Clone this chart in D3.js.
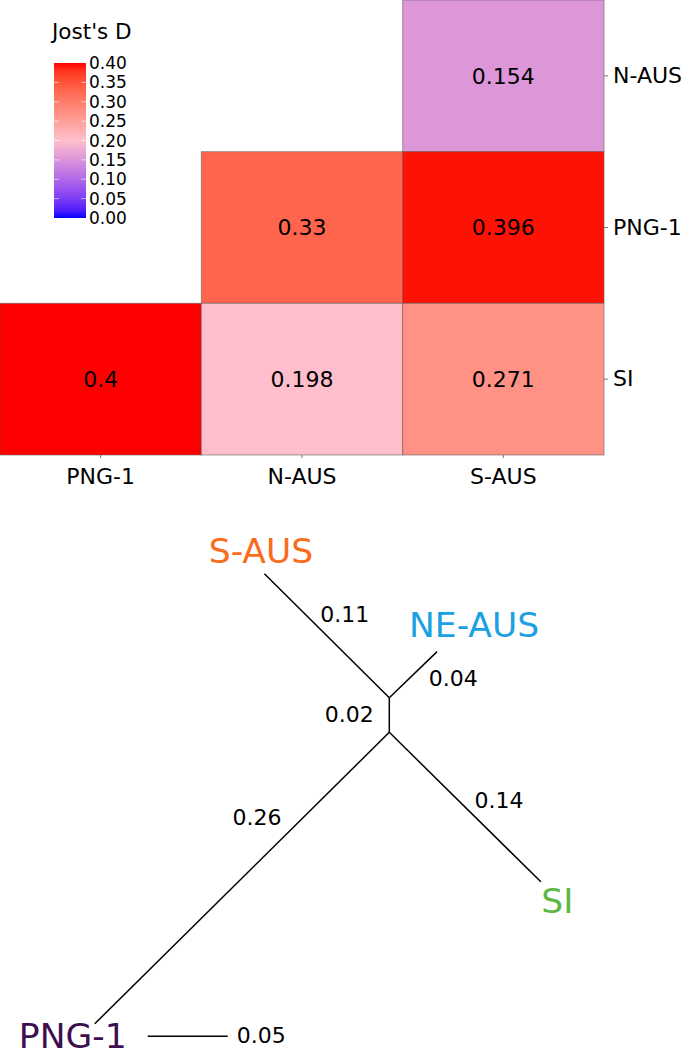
<!DOCTYPE html>
<html><head><meta charset="utf-8">
<script src="https://cdn.jsdelivr.net/npm/d3@7"></script>
<style>
body{margin:0;background:#fff}
svg{display:block}
text{font-family:"DejaVu Sans",Verdana,sans-serif}
</style>
</head><body>
<svg id="c" width="685" height="1057"></svg>
<script>
// ---------- DATA ----------
const colPops = ["PNG-1", "N-AUS", "S-AUS"];
const rowPops = ["N-AUS", "PNG-1", "SI"];
const cellRow = ["N-AUS", "PNG-1", "PNG-1", "SI", "SI", "SI"];
const cellCol = ["S-AUS", "N-AUS", "S-AUS", "PNG-1", "N-AUS", "S-AUS"];
const cellValues = [0.154, 0.33, 0.396, 0.4, 0.198, 0.271];
const legendTicks = [0, 0.05, 0.10, 0.15, 0.20, 0.25, 0.30, 0.35, 0.40];
const legendTitle = "Jost's D";

const branchNames = ["internal", "S-AUS", "NE-AUS", "PNG-1", "SI"];
const branchParent = [null, "internal", "internal", null, null];
const branchLengths = [0.0216, 0.110, 0.0415, 0.259, 0.133];
const branchLabels = ["0.02", "0.11", "0.04", "0.26", "0.14"];
const taxonNames = ["S-AUS", "NE-AUS", "SI", "PNG-1"];
const taxonColors = ["#fa6b1c", "#1ba0e2", "#5db843", "#3e0f50"];
const scaleBarValue = 0.05;

// ---------- LAYOUT ----------
const svg = d3.select("#c");
const hm = {left: 0, top: 0, width: 604, height: 455};

const color = d3.scaleLinear()
  .domain([0, 0.2, 0.4])
  .range(["#0000ff", "#ffc0cb", "#ff0000"])
  .interpolate(d3.interpolateLab);

const x = d3.scaleBand().domain(colPops).range([hm.left, hm.left + hm.width]);
const y = d3.scaleBand().domain(rowPops).range([hm.top, hm.top + hm.height]);

const cells = cellValues.map((v, i) => ({v, r: cellRow[i], c: cellCol[i]}));
const g = svg.append("g");
g.selectAll("rect.cell").data(cells).join("rect")
  .attr("class", "cell")
  .attr("x", d => x(d.c)).attr("y", d => y(d.r))
  .attr("width", x.bandwidth()).attr("height", y.bandwidth())
  .attr("fill", d => color(d.v))
  .attr("stroke", "rgba(90,90,90,0.55)").attr("stroke-width", 1);
g.selectAll("text.val").data(cells).join("text")
  .attr("class", "val")
  .attr("x", d => x(d.c) + x.bandwidth() / 2)
  .attr("y", d => y(d.r) + y.bandwidth() / 2)
  .attr("dy", "0.36em")
  .attr("text-anchor", "middle")
  .attr("font-size", 22).attr("fill", "#000")
  .text(d => String(d.v));

// axes
const xAxis = svg.append("g").attr("transform", `translate(0,${hm.top + hm.height})`)
  .call(d3.axisBottom(x).tickSize(3).tickPadding(10));
const yAxis = svg.append("g").attr("transform", `translate(${hm.left + hm.width},0)`)
  .call(d3.axisRight(y).tickSize(4).tickPadding(5));
[xAxis, yAxis].forEach(a => {
  a.select(".domain").remove();
  a.selectAll(".tick line").attr("stroke", "#777");
  a.selectAll(".tick text").attr("font-size", 22).attr("fill", "#000")
    .attr("font-family", '"DejaVu Sans",Verdana,sans-serif');
});

// legend
const lg = {x: 54, w: 32, top: 63, bottom: 218};
const ly = d3.scaleLinear().domain([0, 0.4]).range([lg.bottom, lg.top]);
const defs = svg.append("defs");
const grad = defs.append("linearGradient").attr("id", "lgGrad")
  .attr("x1", 0).attr("y1", 1).attr("x2", 0).attr("y2", 0);
d3.range(0, 1.0001, 0.05).forEach(t => {
  grad.append("stop").attr("offset", t).attr("stop-color", color(t * 0.4));
});
svg.append("rect").attr("x", lg.x).attr("y", lg.top)
  .attr("width", lg.w).attr("height", lg.bottom - lg.top)
  .attr("fill", "url(#lgGrad)");
const inner = legendTicks.filter(t => t > 0 && t < 0.4);
svg.selectAll("line.ltl").data(inner).join("line").attr("class", "ltl")
  .attr("x1", lg.x).attr("x2", lg.x + 5)
  .attr("y1", d => ly(d)).attr("y2", d => ly(d))
  .attr("stroke", "rgba(255,255,255,0.6)");
svg.selectAll("line.ltr").data(inner).join("line").attr("class", "ltr")
  .attr("x1", lg.x + lg.w - 5).attr("x2", lg.x + lg.w)
  .attr("y1", d => ly(d)).attr("y2", d => ly(d))
  .attr("stroke", "rgba(255,255,255,0.6)");
svg.selectAll("text.lt").data(legendTicks).join("text").attr("class", "lt")
  .attr("x", lg.x + lg.w + 3).attr("y", d => ly(d)).attr("dy", "0.36em")
  .attr("font-size", 17).attr("fill", "#000")
  .text(d => d3.format(".2f")(d));
svg.append("text").attr("x", 52).attr("y", 39)
  .attr("font-size", 21.5).attr("fill", "#000").text(legendTitle);

// ---------- TREE ----------
const len = d3.scaleLinear().domain([0, 1]).range([0, 1600]);
const origin = [389.3, 732.3];
const angleDeg = {"internal": -90, "S-AUS": -135.2, "NE-AUS": -44, "PNG-1": 135.3, "SI": 44.6};
const pos = {};
const branches = branchNames.map((n, i) => ({name: n, parent: branchParent[i], length: branchLengths[i], label: branchLabels[i]}));
branches.forEach(b => {
  const start = b.parent ? pos[b.parent] : origin;
  const a = angleDeg[b.name] * Math.PI / 180;
  const L = len(b.length);
  pos[b.name] = [start[0] + L * Math.cos(a), start[1] + L * Math.sin(a)];
  b.start = start; b.end = pos[b.name];
});
const tg = svg.append("g");
tg.selectAll("line.br").data(branches).join("line").attr("class", "br")
  .attr("x1", d => d.start[0]).attr("y1", d => d.start[1])
  .attr("x2", d => d.end[0]).attr("y2", d => d.end[1])
  .attr("stroke", "#000").attr("stroke-width", 1.5);

const brLabOff = {"internal": [-40, 7], "S-AUS": [18, -14], "NE-AUS": [40, 11], "PNG-1": [15, -53], "SI": [34, 1]};
tg.selectAll("text.bl").data(branches).join("text").attr("class", "bl")
  .attr("x", d => (d.start[0] + d.end[0]) / 2 + brLabOff[d.name][0])
  .attr("y", d => (d.start[1] + d.end[1]) / 2 + brLabOff[d.name][1])
  .attr("text-anchor", "middle").attr("font-size", 22).attr("fill", "#000")
  .text(d => d.label);

const taxOff = {"S-AUS": [-3.5, -11, "middle"], "NE-AUS": [37, -15, "middle"], "SI": [0.5, 31, "start"], "PNG-1": [-22, 24, "middle"]};
tg.selectAll("text.tx").data(taxonNames.map((n, i) => ({n, c: taxonColors[i]}))).join("text").attr("class", "tx")
  .attr("x", d => pos[d.n][0] + taxOff[d.n][0])
  .attr("y", d => pos[d.n][1] + taxOff[d.n][1])
  .attr("text-anchor", d => taxOff[d.n][2])
  .attr("font-size", 34.5).attr("fill", d => d.c)
  .text(d => d.n);

// scale bar
const sbStart = [147.7, 1036.3];
tg.append("line").attr("x1", sbStart[0]).attr("y1", sbStart[1])
  .attr("x2", sbStart[0] + len(scaleBarValue)).attr("y2", sbStart[1])
  .attr("stroke", "#000").attr("stroke-width", 1.5);
tg.append("text").attr("x", sbStart[0] + len(scaleBarValue) + 9).attr("y", sbStart[1] + 7)
  .attr("font-size", 22).attr("fill", "#000").text(String(scaleBarValue));
</script>
</body></html>
